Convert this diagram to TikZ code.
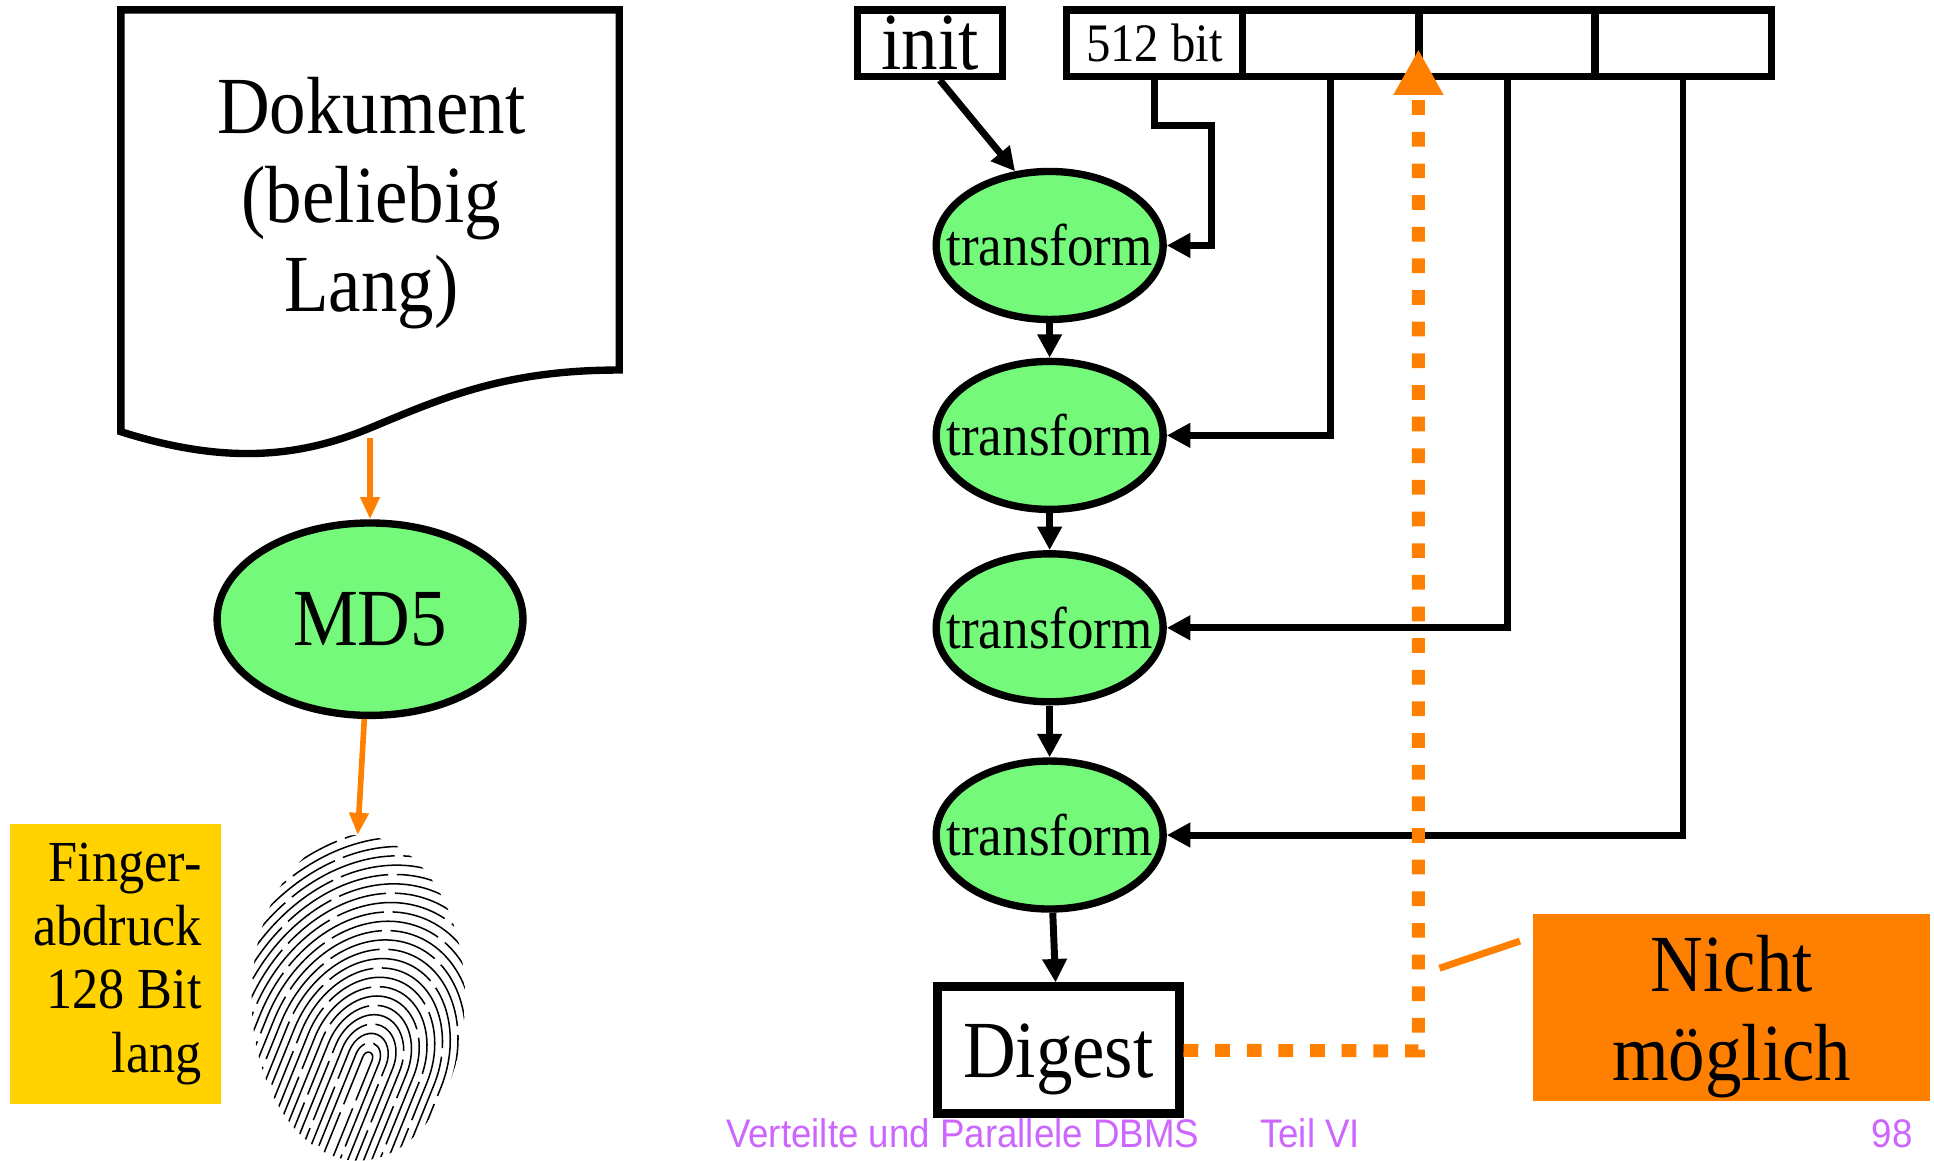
\documentclass[tikz,border=0pt]{standalone}
\usepackage{fontspec}
\setmainfont{Liberation Serif}[FakeStretch=0.9]
\newfontfamily\footfont{Liberation Sans}[FakeStretch=0.92]
\usetikzlibrary{arrows.meta,shapes.geometric}

\definecolor{hashgreen}{RGB}{116,249,122}
\definecolor{printgold}{RGB}{255,210,0}
\definecolor{warnorange}{RGB}{255,127,0}
\definecolor{footviolet}{RGB}{204,102,255}

\tikzset{
  bigtext/.style={font=\fontsize{18.7}{20.5}\selectfont},
  midtext/.style={font=\fontsize{13.6}{15}\selectfont},
  cellbox/.style={draw, line width=1.7pt, inner sep=0pt, minimum height=0.54cm},
  hashnode/.style={ellipse, draw, line width=1.7pt, fill=hashgreen, inner sep=0pt},
  link/.style={line width=1.6pt, -{Triangle[length=0.19cm,width=0.19cm]}},
  feed/.style={draw=warnorange, line width=1.3pt, -{Triangle[length=0.18cm,width=0.15cm]}},
  nogo/.style={draw=warnorange, line width=3pt, dash pattern=on 3.4pt off 3.9pt,
    -{Triangle[length=0.37cm,width=0.38cm]}},
  ridge/.style={line width=0.35pt, dash pattern=on 26pt off 2pt},
  footer/.style={font=\footfont\fontsize{9.2}{11}\selectfont, text=footviolet,
    inner sep=0pt, anchor=base west},
}

\begin{document}
\begin{tikzpicture}[x=1cm, y=-1cm]
  \useasboundingbox (0,0) rectangle (15.68,9.41);

  % document with wavy lower edge
  \draw[line width=1.7pt] (0.98,0.08) -- (5.02,0.08) -- (5.02,3.00)
    .. controls (4.1,3.00) and (3.6,3.22) .. (3.0,3.47)
    .. controls (2.4,3.72) and (1.8,3.76) .. (0.98,3.50) -- cycle;
  \node[bigtext, align=center] (doc) at (3.01,1.645) {Dokument\\(beliebig\\Lang)};
  \coordinate (docbot) at (3.0,3.55);

  % hash function and result
  \node[hashnode, bigtext, minimum width=2.48cm, minimum height=1.56cm] (md5) at (3.0,5.02) {MD5};
  \coordinate (fptop) at (2.90,6.77);
  \draw[feed] (docbot) -- (md5);
  \draw[feed] (md5) -- (fptop);

  \node[fill=printgold, text width=1.40cm, inner sep=0.155cm, minimum height=2.23cm,
    align=flush right, font=\fontsize{13.4}{14.7}\selectfont] (fplabel) at (0.935,7.815)
    {Finger-\\abdruck\\128 Bit\\lang};

  % fingerprint: loops around the core, opening to the lower left
  \begin{scope}
    \clip (2.905,8.09) ellipse [x radius=0.865, y radius=1.32];
    \foreach \r [count=\k] in {0.04,0.1,...,1.6} {
      \pgfmathsetmacro\ph{mod(\k*11,27)}
      \draw[ridge, dash phase=\ph pt, rotate around={-22:(2.98,8.58)}]
        (2.98,8.58) ++(-\r,2) -- ++(0,-2)
        arc [start angle=180, end angle=360, x radius=\r, y radius=1.3*\r] -- ++(0,2);
    }
  \end{scope}

  % message blocks
  \node[cellbox, bigtext, minimum width=1.18cm] (init) at (7.54,0.35) {init};
  \foreach \i/\x in {1/9.36,2/10.79,3/12.22,4/13.645}
    \node[cellbox, minimum width=1.43cm] (cell\i) at (\x,0.35) {};
  \node[font=\fontsize{12.5}{14}\selectfont] (bits) at (cell1) {512 bit};

  % compression rounds
  \foreach \i/\y in {1/1.99,2/3.53,3/5.09,4/6.77}
    \node[hashnode, midtext, inner xsep=-0.19cm, minimum width=1.84cm, minimum height=1.20cm]
      (t\i) at (8.51,\y) {transform};
  \node[cellbox, bigtext, line width=2pt, minimum width=1.96cm, minimum height=1.03cm,
    text depth=0pt] (digest) at (8.58,8.515) {Digest};

  \draw[link] ([xshift=0.08cm]init.south) -- (t1.115);
  \draw[link] (cell1.south) -- ++(0,0.37) -- ++(0.46,0) |- (t1.east);
  \foreach \i in {2,3,4}
    \draw[link] (cell\i.south) |- (t\i.east);
  \foreach \i/\j in {1/2,2/3,3/4}
    \draw[link] (t\i) -- (t\j);
  \draw[link] (t4) -- (digest);

  % no way back
  \coordinate (bend) at (11.50,8.52);
  \coordinate (goal) at (11.50,0.40);
  \draw[nogo] (digest.east) -- (bend) -- (goal);

  \node[fill=warnorange, bigtext, align=center, text depth=0pt,
    minimum width=3.22cm, minimum height=1.52cm] (nope) at (14.04,8.17) {Nicht\\möglich};
  \coordinate (callout) at (11.67,7.85);
  \draw[warnorange, line width=1.6pt] ([shift={(-0.10,-0.54)}]nope.west) -- (callout);

  % footer
  \node[footer] (course) at (5.88,9.30) {Verteilte und Parallele DBMS};
  \node[footer] (part) at (10.21,9.30) {Teil VI};
  \node[footer] (page) at (15.17,9.30) {98};
\end{tikzpicture}
\end{document}
